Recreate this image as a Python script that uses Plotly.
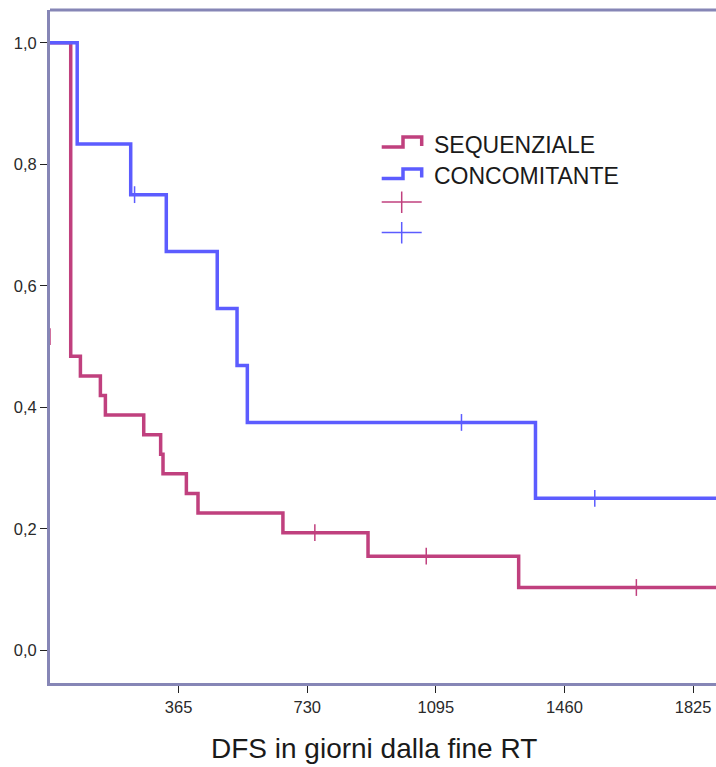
import plotly.graph_objects as go

# ---- data (days, survival) ----
seq_days = [0, 58.8, 86.3, 143, 157.2, 266, 314, 320.7, 387, 420, 661, 902.5, 1330, 1890]
seq_surv = [1.0, 15/31, 14/31, 13/31, 12/31, 11/31, 10/31, 9/31, 8/31, 7/31, 6/31, 6/31*4/5, 6/31*4/5*2/3, 6/31*4/5*2/3]
seq_cens_days = [0, 751.6, 1067.7, 1664]
seq_cens_surv = [16/31, 6/31, 6/31*4/5, 6/31*4/5*2/3]

con_days = [0, 77.2, 229, 330, 474.6, 530.8, 560, 1377.7, 1890]
con_surv = [1.0, 10/12, 9/12, 0.65625, 0.5625, 0.46875, 0.375, 0.25, 0.25]
con_cens_days = [240, 1167.7, 1546]
con_cens_surv = [0.75, 0.375, 0.25]

x_ticks = [365, 730, 1095, 1460, 1825]
y_ticks = [0.0, 0.2, 0.4, 0.6, 0.8, 1.0]
y_ticktext = ["0,0", "0,2", "0,4", "0,6", "0,8", "1,0"]

labels = ["SEQUENZIALE", "CONCOMITANTE"]
x_title = "DFS in giorni dalla fine RT"
MAG = "#C0407E"
BLU = "#5C5CFF"
FRAME = "#8686B6"
FONT = "Liberation Sans, Arial"

fig = go.Figure()
fig.add_trace(go.Scatter(x=seq_days, y=seq_surv, mode="lines", line=dict(color=MAG, width=3.5, shape="hv"),
                         showlegend=False, cliponaxis=False))
fig.add_trace(go.Scatter(x=con_days, y=con_surv, mode="lines", line=dict(color=BLU, width=3.5, shape="hv"),
                         showlegend=False))
fig.add_trace(go.Scatter(x=seq_cens_days, y=seq_cens_surv, mode="markers",
                         marker=dict(symbol="line-ns", size=12, line=dict(color=MAG, width=1.5)),
                         showlegend=False, cliponaxis=False))
fig.add_trace(go.Scatter(x=con_cens_days, y=con_cens_surv, mode="markers",
                         marker=dict(symbol="line-ns", size=12, line=dict(color=BLU, width=1.5)),
                         showlegend=False, cliponaxis=False))

W, H = 716, 767
L, R, T, B = 50, 0, 10, 84
pw, ph = W - L - R, H - T - B

def px(xp):
    return (xp - L) / pw

def py(yp):
    return 1 - (yp - T) / ph

shapes = []
# frame: top line
shapes.append(dict(type="line", xref="paper", yref="paper", x0=0, x1=1, y0=1, y1=1,
                   line=dict(color=FRAME, width=3)))

# custom legend (step icons + crosses)
def step_icon(y_low, y_high, color):
    x0, xm, x1 = 381.7, 403, 421.7
    path = "M {} {} L {} {} L {} {} L {} {} L {} {}".format(
        px(x0), py(y_low), px(xm), py(y_low), px(xm), py(y_high), px(x1), py(y_high), px(x1), py(y_low - 1))
    return dict(type="path", xref="paper", yref="paper", path=path,
                line=dict(color=color, width=3.5))

shapes.append(step_icon(147, 137, MAG))
shapes.append(step_icon(178.5, 169, BLU))
for yc, col in [(202, MAG), (232.5, BLU)]:
    shapes.append(dict(type="line", xref="paper", yref="paper", x0=px(381.7), x1=px(421.7), y0=py(yc), y1=py(yc),
                       line=dict(color=col, width=1.5)))
    shapes.append(dict(type="line", xref="paper", yref="paper", x0=px(401.7), x1=px(401.7), y0=py(yc - 10.5), y1=py(yc + 11),
                       line=dict(color=col, width=1.5)))

annotations = []
for lab, yc in zip(labels, [145, 176]):
    annotations.append(dict(text=lab, xref="paper", yref="paper", x=px(432), y=py(yc), xanchor="left", yanchor="middle",
                            showarrow=False, font=dict(family=FONT, size=23, color="#1a1a1a")))
annotations.append(dict(text=x_title, xref="paper", yref="paper", x=px(374), y=py(748), xanchor="center",
                        yanchor="middle", showarrow=False, font=dict(family=FONT, size=28, color="#1a1a1a")))

fig.update_layout(
    width=W, height=H, margin=dict(l=L, r=R, t=T, b=B),
    plot_bgcolor="white", paper_bgcolor="white",
    shapes=shapes, annotations=annotations,
    font=dict(family=FONT, color="#333333"),
    xaxis=dict(range=[0, 1890], tickvals=x_ticks, ticktext=[str(v) for v in x_ticks],
               showgrid=False, zeroline=False, showline=True, linecolor=FRAME, linewidth=3,
               ticks="outside", ticklen=7, tickwidth=1, tickcolor="#222222",
               tickfont=dict(size=16.5, color="#2a2a2a")),
    yaxis=dict(range=[-0.054, 1.054], tickvals=y_ticks, ticktext=y_ticktext,
               showgrid=False, zeroline=False, showline=True, linecolor=FRAME, linewidth=3,
               ticks="outside", ticklen=7, tickwidth=1, tickcolor="#222222",
               tickfont=dict(size=16.5, color="#2a2a2a")),
)

fig.write_html("out.html")
